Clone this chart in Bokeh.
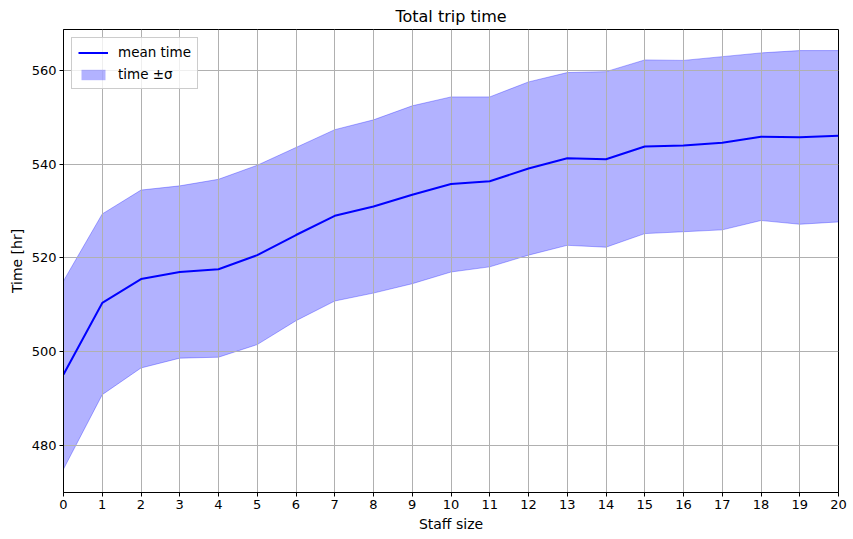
from bokeh.plotting import figure
from bokeh.models import Range1d, FixedTicker, Legend, LegendItem
from bokeh.embed import file_html
from bokeh.resources import INLINE

staff = list(range(21))
mean_time = [495.1, 510.4, 515.5, 517.0, 517.6, 520.6, 524.9, 529.0, 531.0, 533.5, 535.8,
             536.4, 539.1, 541.3, 541.1, 543.8, 544.0, 544.6, 545.9, 545.8, 546.1]
upper = [515.1, 529.4, 534.5, 535.4, 536.8, 539.8, 543.6, 547.4, 549.5, 552.5, 554.4,
         554.4, 557.6, 559.6, 559.8, 562.3, 562.2, 563.0, 563.8, 564.3, 564.3]
lower = [474.9, 490.8, 496.5, 498.6, 498.8, 501.5, 506.6, 510.8, 512.5, 514.5, 517.0,
         518.1, 520.6, 522.7, 522.3, 525.2, 525.6, 526.0, 528.0, 527.2, 527.7]
y_ticks = [480, 500, 520, 540, 560]

FONT = "DejaVu Sans"
p = figure(width=848, height=535, output_backend="svg", toolbar_location=None,
           x_range=Range1d(0, 20), y_range=Range1d(469.9, 568.8),
           min_border_left=63, min_border_right=10, min_border_bottom=43, min_border_top=19,
           title="Total trip time")
p.title.align = "center"
p.title.text_font = FONT
p.title.text_font_size = "16px"
p.title.text_font_style = "normal"
p.title.text_color = "black"
p.title.offset = 0
p.title.standoff = 8

band = p.varea(x=staff, y1=lower, y2=upper, fill_color="blue", fill_alpha=0.3, level="image")
p.line(staff, upper, line_color="blue", line_alpha=0.3, line_width=1, level="image")
p.line(staff, lower, line_color="blue", line_alpha=0.3, line_width=1, level="image")
mline = p.line(staff, mean_time, line_color="blue", line_width=2)

p.xaxis.ticker = FixedTicker(ticks=staff)
p.yaxis.ticker = FixedTicker(ticks=y_ticks)
p.xaxis.axis_label = "Staff size"
p.yaxis.axis_label = "Time [hr]"
for ax in (p.xaxis, p.yaxis):
    ax.axis_label_text_font = FONT
    ax.axis_label_text_font_size = "14px"
    ax.axis_label_text_font_style = "normal"
    ax.axis_label_text_color = "black"
    ax.major_label_text_font = FONT
    ax.major_label_text_font_size = "13px"
    ax.major_label_text_color = "black"
    ax.axis_line_color = "black"
    ax.major_tick_line_color = "black"
    ax.major_tick_out = 4
    ax.major_tick_in = 0
    ax.minor_tick_line_color = None
    ax.axis_label_standoff = 4
    ax.major_label_standoff = 3
p.xgrid.grid_line_color = "#b0b0b0"
p.ygrid.grid_line_color = "#b0b0b0"
p.xgrid.grid_line_width = 1
p.ygrid.grid_line_width = 1
p.outline_line_color = "black"
p.outline_line_alpha = 1
p.outline_line_width = 1

legend = Legend(items=[LegendItem(label="mean time", renderers=[mline]),
                       LegendItem(label="time ±σ", renderers=[band])],
                location="top_left")
legend.label_text_font = FONT
legend.label_text_font_size = "13.5px"
legend.label_text_color = "black"
legend.border_line_color = "#cccccc"
legend.border_line_alpha = 1
legend.background_fill_alpha = 0.8
legend.glyph_width = 30
legend.glyph_height = 13
legend.spacing = 6
legend.padding = 6
legend.margin = 8
legend.label_standoff = 10
p.add_layout(legend)

open("out.html", "w").write(file_html(p, INLINE))
